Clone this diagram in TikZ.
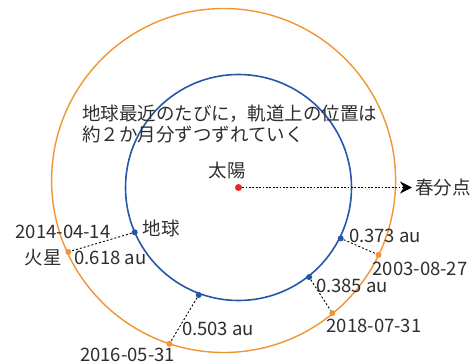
\documentclass[tikz,border=0pt]{standalone}
\usepackage{fontspec}
\setmainfont{Noto Sans CJK JP}
\usetikzlibrary{arrows.meta}
\definecolor{orb1}{HTML}{2457A8}
\definecolor{orb2}{HTML}{F39433}
\definecolor{sunred}{HTML}{E8262A}
\definecolor{txt}{HTML}{2E2E2E}
\begin{document}
\begin{tikzpicture}[x=1pt,y=-1pt,
 lbl/.style={text=txt,font=\fontsize{18.5}{20}\selectfont,inner sep=0pt},
 edot/.style={circle,fill=orb1,inner sep=0pt,minimum size=6pt},
 mdot/.style={circle,fill=orb2,inner sep=0pt,minimum size=6pt},
 link/.style={black,line width=0.9pt,dash pattern=on 2pt off 2pt},
 dirline/.style={black,line width=1.7pt,dash pattern=on 1.7pt off 1.7pt,-{Stealth[length=12pt,width=12pt]}}]
\useasboundingbox (0,0) rectangle (476,363);
\draw[orb2,line width=1.4pt] (223.6,180.5) circle (172pt);
\draw[orb1,line width=1.6pt] (238.5,187.5) circle (113pt);
% sun and direction to vernal equinox
\node[circle,fill=sunred,inner sep=0pt,minimum size=7pt] (sun) at (238.5,187.5) {};
\coordinate (vern) at (412,187.5);
\draw[dirline] (sun) -- (vern);
\node[lbl,anchor=west] (vernlbl) at (415,187.5) {春分点};
\node[lbl] (sunlbl) at (227,170) {太陽};
% annotation
\node[lbl,anchor=west] (note1) at (82,113.5) {地球最近のたびに，軌道上の位置は};
\node[lbl,anchor=west] (note2) at (82,134.5) {約２か月分ずつずれていく};
% 2014
\node[edot] (e14) at (134.7,232.3) {};
\node[mdot] (m14) at (68.4,251.9) {};
\draw[link] (e14) -- (m14);
\node[lbl] (d14) at (63,232) {2014-04-14};
\node[lbl] (mars) at (43,257.6) {火星};
\node[lbl] (a14) at (110.4,257.6) {0.618 au};
\node[lbl] (earth) at (161,228) {地球};
% 2003
\node[edot] (e03) at (340.7,238.4) {};
\node[mdot] (m03) at (378.5,254.9) {};
\draw[link] (e03) -- (m03);
\node[lbl] (a03) at (385,235.7) {0.373 au};
\node[lbl] (d03) at (420,268.7) {2003-08-27};
% 2018
\node[edot] (e18) at (309.1,277.1) {};
\node[mdot] (m18) at (332.3,313.1) {};
\draw[link] (e18) -- (m18);
\node[lbl] (a18) at (352,286) {0.385 au};
\node[lbl] (d18) at (374,326) {2018-07-31};
% 2016
\node[edot] (e16) at (198.7,295) {};
\node[mdot] (m16) at (169.4,343.8) {};
\draw[link] (e16) -- (m16);
\node[lbl] (a16) at (218,329) {0.503 au};
\node[lbl] (d16) at (127.5,355) {2016-05-31};
\end{tikzpicture}
\end{document}
